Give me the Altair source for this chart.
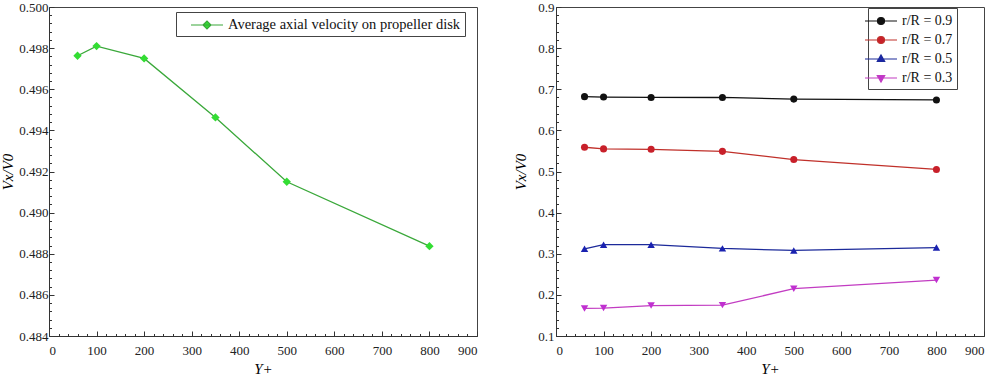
import altair as alt
import pandas as pd

# ---------------- data ----------------
yplus = [60, 100, 200, 350, 500, 800]

avg_name = ["Average axial velocity on propeller disk"]
avg_vel = [0.49763, 0.49810, 0.49750, 0.49463, 0.49150, 0.48837]

series_names = ["r/R = 0.9", "r/R = 0.7", "r/R = 0.5", "r/R = 0.3"]
r09 = [0.682, 0.681, 0.680, 0.680, 0.676, 0.674]
r07 = [0.559, 0.555, 0.554, 0.549, 0.529, 0.505]
r05 = [0.312, 0.322, 0.322, 0.313, 0.308, 0.315]
r03 = [0.167, 0.168, 0.174, 0.175, 0.215, 0.236]
series_values = [r09, r07, r05, r03]

x_ticks = list(range(0, 901, 20))
left_ticks = [round(0.484 + i * 0.0004, 4) for i in range(41)]
right_ticks = [round(0.1 + i * 0.02, 2) for i in range(41)]

# ---------------- styles ----------------
FONT = "Liberation Serif"
AX = "#333333"
line_colors = ["#111111", "#c0302a", "#1c2a9a", "#c23cc2"]
fill_colors = ["#111111", "#c8202a", "#1a22b0", "#c030d0"]
marker_groups = [
    ("circle", ["r/R = 0.9", "r/R = 0.7"], 50),
    ("triangle-up", ["r/R = 0.5"], 55),
    ("triangle-down", ["r/R = 0.3"], 55),
]
legend_paths = [
    "M-2,0H-0.44A0.44,0.44 0 1,0 0.44,0A0.44,0.44 0 1,0 -0.44,0M0.44,0H2",
    "M-2,0H-0.44A0.44,0.44 0 1,0 0.44,0A0.44,0.44 0 1,0 -0.44,0M0.44,0H2",
    "M-2,0H2M-0.46,0.3L0,-0.5L0.46,0.3Z",
    "M-2,0H2M-0.46,-0.3L0,0.5L0.46,-0.3Z",
]
diamond_path = "M0.25,0H4.25M1.75,0L2.25,-0.5L2.75,0L2.25,0.5Z"

df_left = pd.DataFrame({"yplus": yplus, "v": avg_vel, "series": avg_name * len(yplus)})
rows = []
for name, vals in zip(series_names, series_values):
    for xv, yv in zip(yplus, vals):
        rows.append({"yplus": xv, "v": yv, "series": name})
df_right = pd.DataFrame(rows)

X_TEST = "datum.value % 100 == 0"


def pick_expr(names, values):
    """Vega expression choosing a value by the legend entry's name."""
    expr = repr(values[-1])
    for n, v in reversed(list(zip(names[:-1], values[:-1]))):
        expr = f"datum.value === {n!r} ? {v!r} : ({expr})"
    return expr


def x_enc():
    return alt.X(
        "yplus:Q",
        scale=alt.Scale(domain=[0, 900], nice=False, zero=False),
        axis=alt.Axis(
            values=x_ticks,
            labelExpr=f"{X_TEST} ? datum.label : ''",
            labelOverlap=False,
            tickSize={"condition": {"test": X_TEST, "value": -5}, "value": -2.5},
            labelPadding=13,
            title="Y+",
            titleFontStyle="italic",
            titleFontWeight="normal",
            titleFont=FONT,
            titleFontSize=15,
            titlePadding=2,
            labelFont=FONT,
            labelFontSize=13,
            domainColor=AX,
            tickColor=AX,
            labelColor="#222222",
            grid=False,
        ),
    )


def y_enc(domain, ticks, test, fmt, title_pad, label_pad):
    return alt.Y(
        "v:Q",
        scale=alt.Scale(domain=domain, nice=False, zero=False),
        axis=alt.Axis(
            values=ticks,
            labelExpr=f"({test}) ? format(datum.value, '{fmt}') : ''",
            labelOverlap=False,
            tickSize={"condition": {"test": test, "value": -5}, "value": -2.5},
            labelPadding=label_pad,
            title="Vx/V0",
            titleFontStyle="italic",
            titleFontWeight="normal",
            titleFont=FONT,
            titleFontSize=15,
            titlePadding=title_pad,
            labelFont=FONT,
            labelFontSize=13,
            domainColor=AX,
            tickColor=AX,
            labelColor="#222222",
            grid=False,
        ),
    )


L_TEST = "abs(datum.value*500 - round(datum.value*500)) < 0.001"
R_TEST = "abs(datum.value*10 - round(datum.value*10)) < 0.001"


def legend_cfg(names, fcolors, lpaths, x, y, lab_off, fsize):
    return alt.Legend(
        title=None,
        orient="none",
        legendX=x,
        legendY=y,
        strokeColor="#444444",
        padding=4,
        rowPadding=3,
        symbolSize=256,
        symbolStrokeWidth=1.2,
        symbolType=alt.ExprRef(pick_expr(names, lpaths)),
        symbolFillColor=alt.ExprRef(pick_expr(names, fcolors)),
        symbolOpacity=1,
        labelFont=FONT,
        labelFontSize=fsize,
        labelColor="#111111",
        labelOffset=lab_off,
        labelLimit=0,
        fillColor="white",
    )


def panel(df, names, lcolors, fcolors, groups, lpaths, ydom, yticks, ytest, yfmt, tpad, lpad, lx, ly, loff, fsize):
    base = alt.Chart(df)
    xe = x_enc()
    ye = y_enc(ydom, yticks, ytest, yfmt, tpad, lpad)
    fill_scale = alt.Scale(domain=names, range=fcolors)
    stroke_scale = alt.Scale(domain=names, range=lcolors)
    lg = legend_cfg(names, fcolors, lpaths, lx, ly, loff, fsize)
    layers = [
        base.mark_line(strokeWidth=1.3).encode(
            x=xe, y=ye, stroke=alt.Stroke("series:N", scale=stroke_scale, legend=lg),
        )
    ]
    for shp, members, sz in groups:
        layers.append(
            base.mark_point(filled=True, size=sz, opacity=1, shape=shp)
            .encode(x=xe, y=ye, fill=alt.Fill("series:N", scale=fill_scale, legend=None))
            .transform_filter(alt.FieldOneOfPredicate(field="series", oneOf=members))
        )
    return alt.layer(*layers).properties(width=428, height=329)


left = panel(df_left, avg_name, ["#3aa83a"], ["#33dd33"], [("diamond", avg_name, 70)], [diamond_path],
             [0.484, 0.500], left_ticks, L_TEST, ".3f", 3, 6, 127, 5, 30, 14.5)
right = panel(df_right, series_names, line_colors, fill_colors, marker_groups, legend_paths,
              [0.1, 0.9], right_ticks, R_TEST, ".1f", 9, 7, 312, 1, 12, 14)

chart = (
    alt.hconcat(left, right, spacing=35)
    .resolve_scale(fill="independent", stroke="independent", x="independent", y="independent")
    .properties(padding={"left": 0, "top": 0, "right": 0, "bottom": 0}, background="white")
    .configure_view(stroke="#444444", strokeWidth=1)
)

chart.save("out.html", embed_options={"renderer": "svg", "actions": False})
